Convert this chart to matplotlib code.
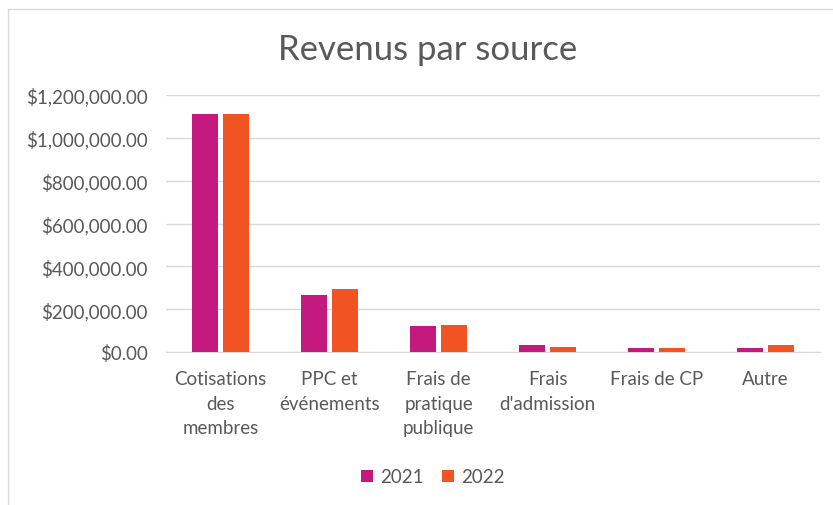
import numpy as np
import matplotlib.pyplot as plt
from matplotlib.patches import Rectangle
from matplotlib.ticker import FuncFormatter

categories = ["Cotisations\ndes\nmembres", "PPC et\névénements", "Frais de\npratique\npublique",
              "Frais\nd'admission", "Frais de CP", "Autre"]
rev_2021 = [1110000, 267000, 121000, 31000, 18600, 20000]
rev_2022 = [1113000, 295000, 126000, 23000, 17000, 31000]

c21 = "#C41A80"
c22 = "#F15323"
txt = "#595959"

plt.rcParams["font.family"] = ["Lato", "DejaVu Sans"]

fig = plt.figure(figsize=(8.33, 5.06), dpi=100)
# chart frame
fig.patches.append(Rectangle((8/833, -0.1), 1.2, 1 - 10/506 + 0.1, transform=fig.transFigure,
                             fill=False, edgecolor="#D9D9D9", lw=1))

ax = fig.add_axes([166/833, 1 - 353/506, 654/833, (353 - 96)/506])
x = np.arange(len(categories))
w = 0.24
ax.bar(x - w/2 - 0.02, rev_2021, w, color=c21, label="2021", zorder=3)
ax.bar(x + w/2 + 0.02, rev_2022, w, color=c22, label="2022", zorder=3)

ax.set_xlim(-0.5, len(categories) - 0.5)
ax.set_ylim(0, 1200000)
ax.set_yticks(np.arange(0, 1200001, 200000))
ax.yaxis.set_major_formatter(FuncFormatter(lambda v, p: f"${v:,.2f}"))
ax.grid(axis="y", color="#D9D9D9", lw=1, zorder=0)
for s in ["top", "right", "left"]:
    ax.spines[s].set_visible(False)
ax.spines["bottom"].set_color("#D9D9D9")
ax.tick_params(length=0, labelsize=13.5, colors=txt)
ax.tick_params(axis="y", pad=13)
ax.set_xticks(x)
ax.set_xticklabels(categories, linespacing=1.55, va="top")
ax.tick_params(axis="x", pad=13)

fig.text(428/833, 1 - 50/506, "Revenus par source", ha="center", va="center",
         fontsize=25, color=txt)

fig.legend(loc="center", bbox_to_anchor=(433/833, 1 - 478/506), ncol=2, frameon=False,
           fontsize=13.5, labelcolor=txt, handlelength=0.6, handleheight=0.6,
           handletextpad=0.4, columnspacing=1.0)

fig.savefig("out.png", dpi=100)
